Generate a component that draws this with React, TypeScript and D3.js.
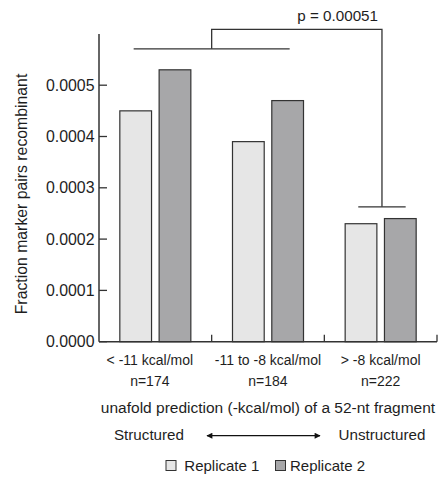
import React, { useEffect, useRef } from "react";
import { scaleBand, scaleLinear, select, format } from "d3";

const categories = ["< -11 kcal/mol", "-11 to -8 kcal/mol", "> -8 kcal/mol"];
const counts = ["n=174", "n=184", "n=222"];
const seriesNames = ["Replicate 1", "Replicate 2"];
const replicate1 = [0.00045, 0.00039, 0.00023];
const replicate2 = [0.00053, 0.00047, 0.00024];
const yTicks = [0, 0.0001, 0.0002, 0.0003, 0.0004, 0.0005];
const colors = ["#e6e6e6", "#a7a7a9"];

const FONT = "'Liberation Sans', Arial, sans-serif";
const INK = "#1e1e1e";
const LINE = "#333";

// first group's labels sit slightly left of the group centre in the original
const labelShift = [-5.5, 0, 0];

function AxisLeft({ scale, x, top }) {
  const fmt = format(".4f");
  return (
    <g>
      <line x1={x} x2={x} y1={scale(0)} y2={top} stroke={LINE} strokeWidth={1.5} />
      {yTicks.map((t) => (
        <g key={`yt-${t}`}>
          <line x1={x} x2={x + 8} y1={scale(t)} y2={scale(t)} stroke={LINE} strokeWidth={1.3} />
          <text
            x={x - 4.5}
            y={scale(t)}
            dy="0.35em"
            textAnchor="end"
            fontFamily={FONT}
            fontSize={15.9}
            fill={INK}
          >
            {fmt(t)}
          </text>
        </g>
      ))}
    </g>
  );
}

export default function App() {
  const width = 439;
  const height = 480;
  const left = 99;
  const right = 437;
  const top = 33.9;
  const bottom = 341.7;

  const x = scaleBand().domain(categories).range([left, right]).padding(0);
  const xInner = scaleBand()
    .domain(seriesNames)
    .range([0, x.bandwidth()])
    .paddingInner(0.193)
    .paddingOuter(0.53);
  const y = scaleLinear().domain([0, 0.0006]).range([bottom, top]);

  const values = [replicate1, replicate2];

  // significance bracket
  const joinX = x(categories[1]);
  const halfSpan = 78;
  const lowY = y(0.000571);
  const highY = y(0.000609);
  const rightX = x(categories[2]) + x.bandwidth() / 2 + 1.3;
  const rightBottom = y(0.000263);

  const arrowY = 435.7;
  const arrowX0 = 207;
  const arrowX1 = 320;

  return (
    <svg width={width} height={height} style={{ position: "absolute", left: 0, top: 0 }}>
      <defs>
        <marker id="ah" viewBox="0 0 10 10" refX="9" refY="5" markerWidth="7" markerHeight="5" orient="auto-start-reverse">
          <path d="M0,0 L10,5 L0,10 z" fill="#111" />
        </marker>
      </defs>

      {categories.map((c, i) =>
        seriesNames.map((s, j) => (
          <rect
            key={`${c}-${s}`}
            x={x(c) + xInner(s)}
            y={y(values[j][i])}
            width={xInner.bandwidth()}
            height={bottom - y(values[j][i])}
            fill={colors[j]}
            stroke={LINE}
            strokeWidth={1.2}
          />
        ))
      )}

      {/* x axis */}
      <line x1={left} x2={right} y1={bottom} y2={bottom} stroke={LINE} strokeWidth={1.5} />
      {categories.map((c) => (
        <line key={`t-${c}`} x1={x(c) + x.bandwidth()} x2={x(c) + x.bandwidth()} y1={bottom} y2={bottom - 7} stroke={LINE} strokeWidth={1.3} />
      ))}

      <AxisLeft scale={y} x={left} top={top} />

      {categories.map((c, i) => (
        <g key={`lab-${c}`} fontFamily={FONT} fontSize={14} fill={INK} textAnchor="middle">
          <text x={x(c) + x.bandwidth() / 2 + labelShift[i]} y={365}>{c}</text>
          <text x={x(c) + x.bandwidth() / 2 + labelShift[i]} y={385.5}>{counts[i]}</text>
        </g>
      ))}

      <text
        transform={`translate(26.5, 194) rotate(-90)`}
        textAnchor="middle"
        fontFamily={FONT}
        fontSize={15.8}
        fill={INK}
      >
        Fraction marker pairs recombinant
      </text>

      {/* bracket */}
      <g stroke={LINE} strokeWidth={1.3} fill="none">
        <line x1={joinX - halfSpan} x2={joinX + halfSpan} y1={lowY} y2={lowY} />
        <polyline points={`${joinX},${lowY} ${joinX},${highY} ${rightX},${highY} ${rightX},${rightBottom}`} />
        <line x1={rightX - 23.7} x2={rightX + 23.7} y1={rightBottom} y2={rightBottom} />
      </g>
      <text x={378} y={20.7} textAnchor="end" fontFamily={FONT} fontSize={15.2} fill={INK}>
        p = 0.00051
      </text>

      <text x={x(categories[1]) + x.bandwidth() / 2} y={413} textAnchor="middle" fontFamily={FONT} fontSize={15.5} fill={INK}>
        unafold prediction (-kcal/mol) of a 52-nt fragment
      </text>

      <text x={149} y={440} textAnchor="middle" fontFamily={FONT} fontSize={15.2} fill={INK}>Structured</text>
      <line x1={arrowX0} x2={arrowX1} y1={arrowY} y2={arrowY} stroke="#111" strokeWidth={1.2} markerStart="url(#ah)" markerEnd="url(#ah)" />
      <text x={382} y={440} textAnchor="middle" fontFamily={FONT} fontSize={15.2} fill={INK}>Unstructured</text>

      {/* legend */}
      <g fontFamily={FONT} fontSize={15} fill={INK}>
        <rect x={166} y={460.5} width={10} height={10} fill={colors[0]} stroke={LINE} strokeWidth={1} />
        <text x={184.3} y={470.7}>{seriesNames[0]}</text>
        <rect x={275.5} y={460.5} width={10} height={10} fill={colors[1]} stroke={LINE} strokeWidth={1} />
        <text x={290} y={470.7}>{seriesNames[1]}</text>
      </g>
    </svg>
  );
}
